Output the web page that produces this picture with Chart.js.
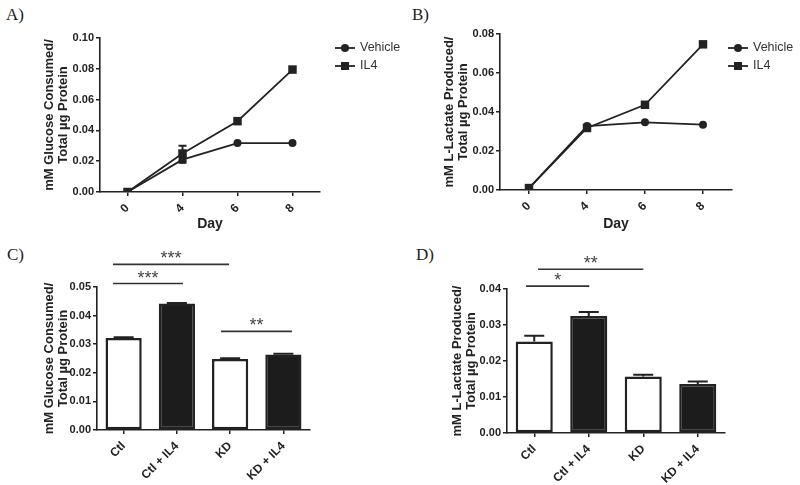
<!DOCTYPE html>
<html>
<head>
<meta charset="utf-8">
<script src="https://cdn.jsdelivr.net/npm/chart.js@4.4.1/dist/chart.umd.min.js"></script>
<style>
  html, body { margin: 0; padding: 0; background: #fff; }
  #wrap { position: relative; width: 800px; height: 485px; overflow: hidden; }
  canvas { position: absolute; }
  .lbl { position: absolute; font-family: "Liberation Serif", "Times New Roman", serif; font-size: 17px; line-height: 1; color: #222; }
</style>
</head>
<body>
<div id="wrap">
  <div class="lbl" style="left:6px;top:6px">A)</div>
  <div class="lbl" style="left:412px;top:6px">B)</div>
  <div class="lbl" style="left:7px;top:246px">C)</div>
  <div class="lbl" style="left:416px;top:246px">D)</div>
  <canvas id="chartA" width="400" height="240" style="left:0;top:0"></canvas>
  <canvas id="chartB" width="400" height="240" style="left:400px;top:0"></canvas>
  <canvas id="chartC" width="400" height="245" style="left:0;top:240px"></canvas>
  <canvas id="chartD" width="400" height="245" style="left:400px;top:240px"></canvas>
</div>
<script>
// data
const days = ["0", "4", "6", "8"];
const glucoseVehicle = [0, 0.021, 0.0318, 0.0318];
const glucoseVehicleErr = [0, 0.002, 0, 0];
const glucoseIL4 = [0, 0.025, 0.046, 0.0795];
const glucoseIL4Err = [0, 0.005, 0, 0];

const lactateVehicle = [0.001, 0.0328, 0.0347, 0.0335];
const lactateIL4 = [0.001, 0.0318, 0.0437, 0.0747];

const groups = ["Ctl", "Ctl + IL4", "KD", "KD + IL4"];
const glucoseBars = [0.0322, 0.0442, 0.0248, 0.0264];
const glucoseBarsErr = [0.0002, 0.0002, 0.0003, 0.0003];
const lactateBars = [0.0254, 0.0325, 0.0157, 0.0136];
const lactateBarsErr = [0.0016, 0.0011, 0.0005, 0.0007];
const barColors = ["#ffffff", "#1c1c1c", "#ffffff", "#1c1c1c"];

// significance bars (from / to in category index, y in data units)
const glucoseSig = [
  { from: -0.2, to: 1.98, y: 0.0579, label: "***" },
  { from: -0.2, to: 1.115, y: 0.0512, label: "***" },
  { from: 1.83, to: 3.16, y: 0.0345, label: "**" },
];
const lactateSig = [
  { from: -0.15, to: 1.01, y: 0.0408, label: "*" },
  { from: 0.07, to: 2.0, y: 0.0455, label: "**" },
];

const ink = "#222";
Chart.defaults.font.family = "Arial, 'Liberation Sans', sans-serif";
Chart.defaults.color = ink;
Chart.defaults.animation = false;

// error bars
const errorBars = {
  id: "errorBars",
  afterDatasetsDraw(chart) {
    const ctx = chart.ctx;
    const y = chart.scales.y;
    chart.data.datasets.forEach((ds, di) => {
      if (!ds.errors) return;
      const meta = chart.getDatasetMeta(di);
      meta.data.forEach((el, i) => {
        const e = ds.errors[i];
        if (!e) return;
        const v = ds.data[i];
        const top = y.getPixelForValue(v + e);
        const bottom = ds.errUpOnly ? el.y : y.getPixelForValue(v - e);
        const half = ds.capWidth / 2;
        ctx.save();
        ctx.strokeStyle = ink;
        ctx.lineWidth = 2;
        ctx.beginPath();
        ctx.moveTo(el.x, top);
        ctx.lineTo(el.x, bottom);
        ctx.moveTo(el.x - half, top);
        ctx.lineTo(el.x + half, top);
        if (!ds.errUpOnly) {
          ctx.moveTo(el.x - half, bottom);
          ctx.lineTo(el.x + half, bottom);
        }
        ctx.stroke();
        ctx.restore();
      });
    });
  },
};

// significance lines with stars
const sigLines = {
  id: "sigLines",
  afterDraw(chart, args, opts) {
    if (!opts.items) return;
    const { ctx, scales: { x, y } } = chart;
    ctx.save();
    opts.items.forEach((it) => {
      const x1 = x.getPixelForValue(it.from);
      const x2 = x.getPixelForValue(it.to);
      const yy = y.getPixelForValue(it.y);
      ctx.strokeStyle = "#333";
      ctx.lineWidth = 1.6;
      ctx.beginPath();
      ctx.moveTo(x1, yy);
      ctx.lineTo(x2, yy);
      ctx.stroke();
      ctx.fillStyle = "#444";
      ctx.font = "18px Arial, 'Liberation Sans', sans-serif";
      ctx.textAlign = "center";
      ctx.textBaseline = "alphabetic";
      ctx.fillText(it.label, (x1 + x2) / 2, yy);
    });
    ctx.restore();
  },
};

// legend: line with marker, like the original
const lineLegend = {
  id: "lineLegend",
  afterDraw(chart, args, opts) {
    if (!opts.x) return;
    const ctx = chart.ctx;
    ctx.save();
    chart.data.datasets.forEach((ds, i) => {
      const yy = opts.y + i * opts.gap;
      ctx.strokeStyle = ink;
      ctx.lineWidth = 1.8;
      ctx.beginPath();
      ctx.moveTo(opts.x, yy);
      ctx.lineTo(opts.x + 20, yy);
      ctx.stroke();
      ctx.fillStyle = ink;
      if (ds.pointStyle === "rect") {
        ctx.fillRect(opts.x + 6, yy - 4, 8, 8);
      } else {
        ctx.beginPath();
        ctx.arc(opts.x + 10, yy, 4, 0, Math.PI * 2);
        ctx.fill();
      }
      ctx.fillStyle = "#333";
      ctx.font = "12.5px Arial, 'Liberation Sans', sans-serif";
      ctx.textBaseline = "middle";
      ctx.fillText(ds.label, opts.x + 25, yy);
    });
    ctx.restore();
  },
};

function axisY(max, step, title, width, titlePad) {
  return {
    min: 0,
    max: max,
    ticks: {
      stepSize: step,
      padding: 2,
      color: ink,
      font: { size: 11, weight: "bold" },
      callback: (v) => v.toFixed(2),
    },
    grid: { drawOnChartArea: false, drawTicks: true, tickLength: 4, color: ink, lineWidth: 1.5 },
    border: { color: ink, width: 1.6 },
    title: {
      display: true,
      text: title,
      color: ink,
      font: { size: 13, weight: "bold", lineHeight: 1.1 },
      padding: { top: titlePad, bottom: 0 },
    },
    afterFit: (s) => { s.width = width; },
  };
}

function axisX(height, withTitle) {
  return {
    offset: true,
    ticks: {
      minRotation: 45,
      maxRotation: 45,
      padding: 5,
      color: ink,
      font: { size: 12, weight: "bold" },
    },
    grid: { offset: false, drawOnChartArea: false, drawTicks: true, tickLength: 4, color: ink, lineWidth: 1.5 },
    border: { color: ink, width: 1.6 },
    title: {
      display: withTitle,
      text: "Day",
      color: ink,
      font: { size: 14, weight: "bold" },
      padding: { top: 0, bottom: 7 },
    },
    afterFit: (s) => { s.height = height; },
  };
}

function lineSet(label, data, style, errors) {
  return {
    label: label,
    data: data,
    errors: errors,
    capWidth: 8,
    borderColor: ink,
    backgroundColor: ink,
    borderWidth: 1.8,
    pointStyle: style,
    pointRadius: style === "rect" ? 6 : 4,
    pointBorderWidth: 0,
    tension: 0,
  };
}

// A) glucose over time
new Chart(document.getElementById("chartA"), {
  type: "line",
  data: {
    labels: days,
    datasets: [
      lineSet("Vehicle", glucoseVehicle, "circle", glucoseVehicleErr),
      lineSet("IL4", glucoseIL4, "rect", glucoseIL4Err),
    ],
  },
  options: {
    responsive: false,
    layout: { padding: { left: 35, right: 80, top: 38, bottom: 0 } },
    plugins: {
      legend: { display: false },
      tooltip: { enabled: false },
      lineLegend: { x: 335, y: 48, gap: 18 },
    },
    scales: {
      x: axisX(48, true),
      y: axisY(0.1, 0.02, ["mM Glucose Consumed/", "Total \u00b5g Protein"], 65, 7),
    },
  },
  plugins: [errorBars, lineLegend],
});

// B) lactate over time
new Chart(document.getElementById("chartB"), {
  type: "line",
  data: {
    labels: days,
    datasets: [
      lineSet("Vehicle", lactateVehicle, "circle", null),
      lineSet("IL4", lactateIL4, "rect", null),
    ],
  },
  options: {
    responsive: false,
    layout: { padding: { left: 35, right: 68, top: 34, bottom: 0 } },
    plugins: {
      legend: { display: false },
      tooltip: { enabled: false },
      lineLegend: { x: 328, y: 48, gap: 18 },
    },
    scales: {
      x: axisX(50, true),
      y: axisY(0.08, 0.02, ["mM L-Lactate Produced/", "Total \u00b5g Protein"], 65, 7),
    },
  },
  plugins: [errorBars, lineLegend],
});

function barChart(id, values, errs, max, title, sig, pad, yWidth, titlePad, xHeight) {
  return new Chart(document.getElementById(id), {
    type: "bar",
    data: {
      labels: groups,
      datasets: [{
        data: values,
        errors: errs,
        errUpOnly: true,
        capWidth: 20,
        backgroundColor: barColors,
        borderColor: ink,
        borderWidth: 2.5,
        borderSkipped: false,
        categoryPercentage: 1,
        barPercentage: 0.68,
      }],
    },
    options: {
      responsive: false,
      layout: { padding: pad },
      plugins: {
        legend: { display: false },
        tooltip: { enabled: false },
        sigLines: { items: sig },
      },
      scales: {
        x: axisX(xHeight, false),
        y: axisY(max, 0.01, title, yWidth, titlePad),
      },
    },
    plugins: [errorBars, sigLines],
  });
}

// C) glucose bars
barChart("chartC", glucoseBars, glucoseBarsErr, 0.05,
  ["mM Glucose Consumed/", "Total \u00b5g Protein"], glucoseSig,
  { left: 32, right: 90, top: 47, bottom: 0 }, 65, 10, 55);

// D) lactate bars
barChart("chartD", lactateBars, lactateBarsErr, 0.04,
  ["mM L-Lactate Produced/", "Total \u00b5g Protein"], lactateSig,
  { left: 40, right: 75, top: 49, bottom: 0 }, 67, 10, 52);
</script>
</body>
</html>
